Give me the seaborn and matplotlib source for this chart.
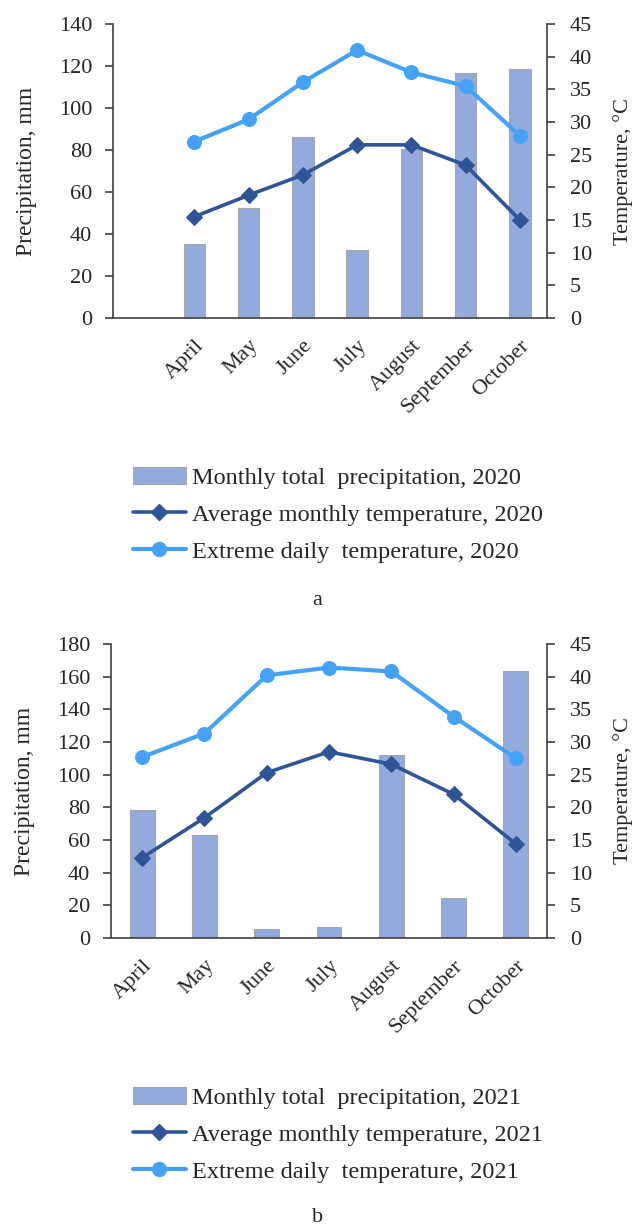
import numpy as np
import pandas as pd
import matplotlib
matplotlib.use("Agg")
import matplotlib.pyplot as plt
import seaborn as sns
from matplotlib.patches import Patch
from matplotlib.lines import Line2D

# ---------------- data ----------------
months = ["April", "May", "June", "July", "August", "September", "October"]

precip_2020 = [35.2, 52.3, 86.0, 32.4, 80.4, 116.7, 118.4]
avg_temp_2020 = [15.5, 18.8, 21.9, 26.5, 26.5, 23.4, 15.0]
ext_temp_2020 = [27.0, 30.4, 36.1, 41.0, 37.6, 35.5, 27.9]

precip_2021 = [78.5, 63.2, 5.5, 6.8, 112.3, 24.4, 163.5]
avg_temp_2021 = [12.3, 18.4, 25.3, 28.5, 26.6, 22.0, 14.4]
ext_temp_2021 = [27.7, 31.3, 40.2, 41.4, 40.8, 33.9, 27.5]

left_ticks_2020 = [0, 20, 40, 60, 80, 100, 120, 140]
left_ticks_2021 = [0, 20, 40, 60, 80, 100, 120, 140, 160, 180]
right_ticks = [0, 5, 10, 15, 20, 25, 30, 35, 40, 45]

legend_2020 = ["Monthly total  precipitation, 2020",
               "Average monthly temperature, 2020",
               "Extreme daily  temperature, 2020"]
legend_2021 = ["Monthly total  precipitation, 2021",
               "Average monthly temperature, 2021",
               "Extreme daily  temperature, 2021"]

# ---------------- style ----------------
sns.set_style("white")
plt.rcParams["font.family"] = ["Liberation Serif", "DejaVu Serif"]
TXT = "#262626"
SPINE = "#404040"
BAR = "#93AADC"
BAR_EDGE = "#A6A6A6"
AVG = "#2F5597"
EXT = "#45A3F7"
FS_TICK = 16
FS_MONTH = 16
FS_LEG = 17.5

W, H = 635, 1229
fig = plt.figure(figsize=(W / 100, H / 100), dpi=100)


def fx(px):
    return px / W


def fy(px):
    return 1 - px / H


def panel(left, right, top, bottom, cats, precip, avg, ext, lticks, legend_labels,
          leg_top, caption, cap_y):
    ax = fig.add_axes([fx(left), fy(bottom), fx(right - left), (bottom - top) / H])
    n = len(cats)
    df = pd.DataFrame({"month": [c for c in cats if c in months], "precip": precip})
    sns.barplot(data=df, x="month", y="precip", order=cats, color=BAR, saturation=1,
                width=0.4, edgecolor=BAR_EDGE, linewidth=0.8, ax=ax)
    ax.set_xlim(-0.5, n - 0.5)
    ax.set_ylim(lticks[0], lticks[-1])
    ax.set_yticks(lticks)
    ax.set_yticklabels([str(t) for t in lticks], fontsize=FS_TICK, color=TXT)
    ax.set_xticks(range(n))
    ax.set_xticklabels(cats, rotation=45, ha="right", va="top", rotation_mode="anchor",
                       fontsize=FS_MONTH, color=TXT)
    ax.set_xticks(np.arange(-0.5, n, 1.0), minor=True)
    ax.tick_params(axis="x", which="major", length=0, pad=13)
    ax.tick_params(axis="x", which="minor", length=5.5, width=1.2, color=SPINE, direction="out")
    ax.tick_params(axis="y", length=5.5, width=1.2, color=SPINE, direction="out", pad=9.5)
    ax.set_xlabel("")
    ax.set_ylabel("Precipitation, mm", fontsize=17, color=TXT, labelpad=16)
    for s in ["top", "right"]:
        ax.spines[s].set_visible(False)
    for s in ["left", "bottom"]:
        ax.spines[s].set_color(SPINE)
        ax.spines[s].set_linewidth(1.2)

    ax2 = ax.twinx()
    pos = [cats.index(m) for m in months]
    sns.lineplot(x=pos, y=avg, ax=ax2, color=AVG, lw=2.6, marker="D", markersize=8,
                 markeredgecolor=AVG, zorder=3)
    sns.lineplot(x=pos, y=ext, ax=ax2, color=EXT, lw=3.0, marker="o", markersize=10,
                 markeredgecolor=EXT, zorder=4)
    ax2.set_ylim(0, 45)
    ax2.set_yticks(right_ticks)
    ax2.set_yticklabels([str(t) for t in right_ticks], fontsize=FS_TICK, color=TXT)
    ax2.tick_params(axis="y", length=5.5, width=1.2, color=SPINE, direction="out", pad=11)
    ax2.set_ylabel("Temperature, °C", fontsize=16, color=TXT, labelpad=15)
    for s in ["top", "left", "bottom"]:
        ax2.spines[s].set_visible(False)
    ax2.spines["right"].set_color(SPINE)
    ax2.spines["right"].set_linewidth(1.2)
    ax2.set_xlim(-0.5, n - 0.5)

    handles = [Patch(facecolor=BAR, edgecolor=BAR_EDGE, linewidth=0.8),
               Line2D([], [], color=AVG, lw=2.6, marker="D", markersize=8),
               Line2D([], [], color=EXT, lw=3.0, marker="o", markersize=10)]
    fig.legend(handles, legend_labels, loc="upper left",
               bbox_to_anchor=(fx(123), fy(leg_top)), frameon=False,
               fontsize=FS_LEG, handlelength=2.2, handletextpad=0.22, labelspacing=0.62,
               labelcolor=TXT, borderaxespad=0)
    fig.text(0.5, fy(cap_y), caption, ha="center", va="center", fontsize=FS_TICK, color=TXT)


panel(113, 547, 24, 318, [""] + months, precip_2020, avg_temp_2020, ext_temp_2020,
      left_ticks_2020, legend_2020, 457, "a", 601)
panel(111, 547, 644, 938, months, precip_2021, avg_temp_2021, ext_temp_2021,
      left_ticks_2021, legend_2021, 1077, "b", 1218)

fig.savefig("out.png", dpi=100)
